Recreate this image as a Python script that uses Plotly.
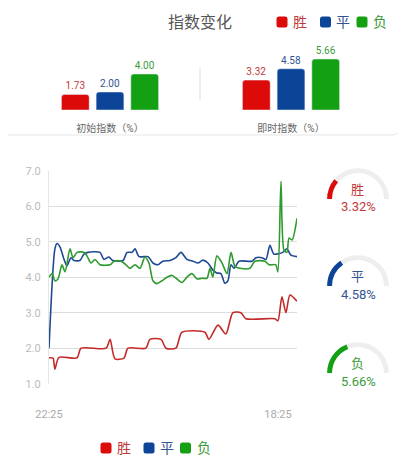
import pandas as pd
import plotly.graph_objects as go

# colours
RED, BLUE, GREEN = "#dd0a0a", "#0c4597", "#13a013"
RED_T, BLUE_T, GREEN_T = "#c0393b", "#34548f", "#3a9a3a"
RED_L, BLUE_L, GREEN_L = "#c42a2a", "#1f4a93", "#2f9a2f"
FONT = "Roboto, 'Noto Sans CJK SC', sans-serif"

# top bars
groups = ["初始指数（%）", "即时指数（%）"]
win_idx = [1.73, 3.32]
draw_idx = [2.00, 4.58]
lose_idx = [4.00, 5.66]

# line chart: minutes after 22:25 and value (%)
t_win = [0, 21, 31, 52, 147, 168, 299, 320, 346, 393, 414, 508, 529, 587, 613, 665, 697,
         817, 838, 886, 927, 964, 1006, 1032, 1184, 1200, 1221, 1242, 1263, 1300]
v_win = [1.73, 1.72, 1.41, 1.74, 1.73, 2.00, 2.00, 2.25, 1.70, 1.72, 2.00, 2.00, 2.25, 2.25,
         2.00, 2.00, 2.45, 2.45, 2.25, 2.65, 2.40, 3.00, 3.00, 2.83, 2.83, 2.77, 3.45, 3.00,
         3.50, 3.32]
t_draw = [0, 31, 42, 58, 79, 94, 115, 131, 162, 183, 204, 267, 288, 314, 335, 388, 409, 435,
          451, 472, 519, 545, 571, 597, 634, 665, 692, 723, 755, 781, 807, 833, 859, 880, 901,
          922, 938, 954, 970, 996, 1064, 1085, 1116, 1137, 1158, 1179, 1226, 1247, 1268, 1300]
v_draw = [2.00, 4.80, 4.95, 4.85, 4.50, 4.32, 4.55, 4.47, 4.47, 4.65, 4.70, 4.70, 4.50, 4.57,
          4.47, 4.47, 4.70, 4.70, 4.80, 4.58, 4.58, 4.40, 4.35, 4.45, 4.47, 4.55, 4.70, 4.50,
          4.45, 4.40, 4.48, 4.40, 4.20, 4.12, 4.10, 3.83, 3.90, 4.35, 4.25, 4.45, 4.45, 4.55,
          4.55, 4.50, 4.90, 4.65, 4.70, 4.80, 4.62, 4.58]
t_lose = [0, 16, 31, 47, 68, 84, 110, 126, 147, 183, 199, 220, 241, 267, 320, 341, 377, 404,
          424, 451, 477, 503, 524, 545, 566, 592, 618, 645, 671, 697, 723, 749, 776, 802, 828,
          844, 859, 880, 907, 933, 954, 975, 1001, 1053, 1079, 1132, 1153, 1189, 1200, 1216,
          1232, 1247, 1258, 1274, 1300]
v_lose = [4.00, 4.10, 3.90, 3.95, 4.35, 4.15, 4.80, 4.55, 4.70, 4.70, 4.60, 4.40, 4.50, 4.35,
          4.35, 4.45, 4.45, 4.35, 4.25, 4.35, 4.25, 4.57, 4.40, 3.90, 3.82, 3.90, 4.00, 4.05,
          3.95, 3.85, 4.00, 4.10, 3.95, 3.97, 3.97, 4.25, 4.00, 4.60, 4.40, 4.10, 4.70, 4.30,
          4.25, 4.25, 4.45, 4.45, 4.35, 4.35, 4.15, 6.70, 4.75, 4.70, 5.10, 5.05, 5.66]
tick_minutes = [0, 1200]
tick_text = ["22:25", "18:25"]

# gauges
gauge_names = ["胜", "平", "负"]
gauge_vals = [3.32, 4.58, 5.66]
gauge_max = 15

base = pd.Timestamp("2024-05-01 22:25")
to_time = lambda mins: [base + pd.Timedelta(minutes=m) for m in mins]

# page has an 8px body margin, so work in window pixels and shift
W, H, OFF = 398, 452, 8
X = lambda x: (x - OFF) / W
Y = lambda y: 1 - (y - OFF) / H

fig = go.Figure()

# --- bars
for vals, col, tcol in [(win_idx, RED, RED_T), (draw_idx, BLUE, BLUE_T), (lose_idx, GREEN, GREEN_T)]:
    fig.add_trace(go.Bar(
        x=groups, y=vals, marker=dict(color=col, cornerradius=3),
        text=["%.2f" % v for v in vals], textposition="outside",
        textfont=dict(color=tcol, size=10), cliponaxis=False, showlegend=False,
        hoverinfo="skip", xaxis="x", yaxis="y"))

# --- lines
for t, v, col in [(t_win, v_win, RED_L), (t_draw, v_draw, BLUE_L), (t_lose, v_lose, GREEN_L)]:
    fig.add_trace(go.Scatter(
        x=to_time(t), y=v, mode="lines",
        line=dict(color=col, width=1.6, shape="spline", smoothing=0.7),
        showlegend=False, xaxis="x2", yaxis="y2"))

# --- gauges
gauge_cols = [RED, BLUE, GREEN]
gauge_tcols = [RED_T, BLUE_T, GREEN_T]
centers = [199, 286, 373]
R = 32.5
for name, val, col, tcol, cy in zip(gauge_names, gauge_vals, gauge_cols, gauge_tcols, centers):
    fig.add_trace(go.Indicator(
        mode="gauge", value=val,
        domain=dict(x=[X(358 - R), X(358 + R)], y=[Y(cy), Y(cy - R)]),
        gauge=dict(
            shape="angular",
            axis=dict(range=[0, gauge_max], visible=False),
            bar=dict(color=col, thickness=0.6),
            bgcolor="rgba(0,0,0,0)", borderwidth=0,
            steps=[dict(range=[0, gauge_max], color="#eeeeee", thickness=0.6)])))
    fig.add_annotation(x=X(357), y=Y(cy - 10), text=name, font=dict(size=13, color=tcol))
    fig.add_annotation(x=X(358), y=Y(cy + 8), text="%.2f%%" % val,
                       font=dict(size=13, color=tcol))

fig.add_annotation(x=X(200), y=Y(22), text="指数变化", font=dict(size=16, color="#555555"))


# legends (rounded square + coloured label)
def legend_item(cx, tx, cy, label, col, tcol):
    s = 5.5
    r = 2.5
    x0, x1 = cx - s, cx + s
    y0, y1 = cy - s, cy + s
    path = ("M {a} {b} L {c} {b} Q {d} {b} {d} {e} L {d} {f} Q {d} {g} {c} {g} "
            "L {a} {g} Q {h} {g} {h} {f} L {h} {e} Q {h} {b} {a} {b} Z").format(
        a=X(x0 + r), b=Y(y0), c=X(x1 - r), d=X(x1), e=Y(y0 + r), f=Y(y1 - r), g=Y(y1), h=X(x0))
    fig.add_shape(type="path", xref="paper", yref="paper", path=path,
                  fillcolor=col, line=dict(width=0))
    fig.add_annotation(x=X(tx), y=Y(cy), text=label, font=dict(size=14, color=tcol))


for cx, tx, name, col, tcol in zip([282, 325.5, 362], [300, 343, 380], gauge_names,
                                   gauge_cols, gauge_tcols):
    legend_item(cx, tx, 22, name, col, tcol)
for cx, tx, name, col, tcol in zip([106, 149, 185.5], [124, 167, 204], gauge_names,
                                   gauge_cols, gauge_tcols):
    legend_item(cx, tx, 448, name, col, tcol)

fig.update_annotations(xref="paper", yref="paper", showarrow=False,
                       xanchor="center", yanchor="middle")

# card + divider
fig.add_shape(type="path", xref="paper", yref="paper",
              path="M %f %f L %f %f Q %f %f %f %f L %f %f Q %f %f %f %f L %f %f Z" % (
                  X(-2), Y(-2), X(392), Y(-2), X(400), Y(-2), X(400), Y(6),
                  X(400), Y(127), X(400), Y(135), X(392), Y(135), X(-2), Y(135)),
              line=dict(color="#e6e6e6", width=1), fillcolor="rgba(0,0,0,0)", layer="below")
fig.add_shape(type="line", xref="paper", yref="paper", x0=X(200), x1=X(200),
              y0=Y(67), y1=Y(100), line=dict(color="#dddddd", width=1))

fig.update_layout(
    width=W, height=H, margin=dict(l=0, r=0, t=0, b=0, autoexpand=False),
    paper_bgcolor="white", plot_bgcolor="white",
    font=dict(family=FONT, size=11, color="#666666"),
    barmode="group", bargap=0.425, bargroupgap=0.2, showlegend=False,
    xaxis=dict(domain=[X(19.5), X(381.5)], showgrid=False, zeroline=False, showline=False,
               ticks="", tickfont=dict(size=10, color="#666666"), ticklabelstandoff=11,
               automargin=False, fixedrange=True),
    yaxis=dict(domain=[Y(110), Y(51.5)], range=[0, 6.5], visible=False, fixedrange=True),
    xaxis2=dict(domain=[X(49), X(297)], type="date", anchor="y2",
                range=to_time([0, 1300]), tickvals=to_time(tick_minutes), ticktext=tick_text,
                showgrid=False, zeroline=False, showline=False, ticks="",
                tickfont=dict(size=11, color="#aaaaaa"), ticklabelstandoff=22,
                automargin=False),
    yaxis2=dict(domain=[Y(383.7), Y(170.7)], range=[1, 7], anchor="x2",
                tickvals=[1, 2, 3, 4, 5, 6, 7], tickformat=".1f", ticksuffix=" %",
                showgrid=True, gridcolor="#dddddd", gridwidth=1, zeroline=False,
                showline=True, linecolor="#e6e6e6", ticks="",
                tickfont=dict(size=11, color="#bbbbbb"), ticklabelstandoff=5,
                automargin=False),
)

fig.write_html("out.html")
